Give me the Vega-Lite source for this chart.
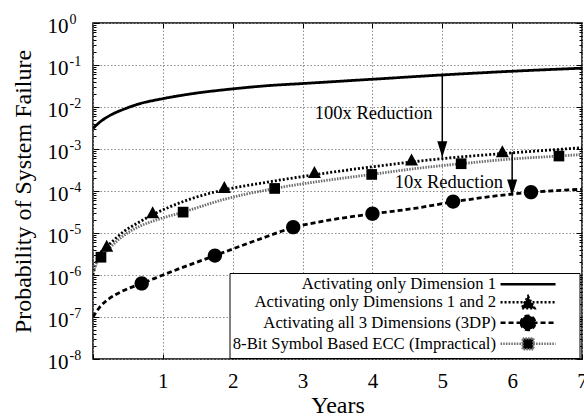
{
  "$schema": "https://vega.github.io/schema/vega-lite/v6.json",
  "width": 489,
  "height": 336,
  "autosize": {"type": "none"},
  "padding": {"left": 93, "top": 23, "right": 2, "bottom": 61},
  "config": {
    "font": "Liberation Serif",
    "view": {"stroke": "black", "strokeWidth": 1.5},
    "axis": {
      "labelFont": "Liberation Serif",
      "titleFont": "Liberation Serif",
      "labelColor": "black",
      "titleColor": "black",
      "titleFontWeight": "normal",
      "labelFlush": false,
      "labelOverlap": false,
      "domain": false,
      "tickColor": "black",
      "tickWidth": 1,
      "gridColor": "#8c8c8c",
      "gridDash": [1.5, 2],
      "gridWidth": 1,
      "gridOpacity": 1
    }
  },
  "datasets": {
    "curves": [
      {"series": "Activating only Dimension 1", "t": 0, "p": 0.0031},
      {"series": "Activating only Dimension 1", "t": 0.1, "p": 0.0044},
      {"series": "Activating only Dimension 1", "t": 0.25, "p": 0.0064},
      {"series": "Activating only Dimension 1", "t": 0.43, "p": 0.0087},
      {"series": "Activating only Dimension 1", "t": 0.67, "p": 0.012},
      {"series": "Activating only Dimension 1", "t": 1.0, "p": 0.0158},
      {"series": "Activating only Dimension 1", "t": 1.4, "p": 0.0205},
      {"series": "Activating only Dimension 1", "t": 2.0, "p": 0.027},
      {"series": "Activating only Dimension 1", "t": 2.5, "p": 0.0322},
      {"series": "Activating only Dimension 1", "t": 3.0, "p": 0.0362},
      {"series": "Activating only Dimension 1", "t": 4.0, "p": 0.0458},
      {"series": "Activating only Dimension 1", "t": 5.0, "p": 0.058},
      {"series": "Activating only Dimension 1", "t": 6.0, "p": 0.071},
      {"series": "Activating only Dimension 1", "t": 7.0, "p": 0.084},
      {"series": "Activating only Dimensions 1 and 2", "t": 0, "p": 0.000001},
      {"series": "Activating only Dimensions 1 and 2", "t": 0.05, "p": 0.0000022},
      {"series": "Activating only Dimensions 1 and 2", "t": 0.12, "p": 0.0000036},
      {"series": "Activating only Dimensions 1 and 2", "t": 0.2, "p": 0.0000048},
      {"series": "Activating only Dimensions 1 and 2", "t": 0.3, "p": 0.0000068},
      {"series": "Activating only Dimensions 1 and 2", "t": 0.43, "p": 0.0000105},
      {"series": "Activating only Dimensions 1 and 2", "t": 0.62, "p": 0.0000166},
      {"series": "Activating only Dimensions 1 and 2", "t": 0.85, "p": 0.000027},
      {"series": "Activating only Dimensions 1 and 2", "t": 1.1, "p": 0.000042},
      {"series": "Activating only Dimensions 1 and 2", "t": 1.39, "p": 0.000064},
      {"series": "Activating only Dimensions 1 and 2", "t": 1.88, "p": 0.000107},
      {"series": "Activating only Dimensions 1 and 2", "t": 2.39, "p": 0.000152},
      {"series": "Activating only Dimensions 1 and 2", "t": 3.18, "p": 0.000245},
      {"series": "Activating only Dimensions 1 and 2", "t": 3.96, "p": 0.00037},
      {"series": "Activating only Dimensions 1 and 2", "t": 5.0, "p": 0.00059},
      {"series": "Activating only Dimensions 1 and 2", "t": 5.87, "p": 0.00078},
      {"series": "Activating only Dimensions 1 and 2", "t": 7.0, "p": 0.00107},
      {"series": "Activating all 3 Dimensions (3DP)", "t": 0, "p": 0.0000001},
      {"series": "Activating all 3 Dimensions (3DP)", "t": 0.1, "p": 0.000000175},
      {"series": "Activating all 3 Dimensions (3DP)", "t": 0.24, "p": 0.00000028},
      {"series": "Activating all 3 Dimensions (3DP)", "t": 0.43, "p": 0.00000042},
      {"series": "Activating all 3 Dimensions (3DP)", "t": 0.7, "p": 0.00000063},
      {"series": "Activating all 3 Dimensions (3DP)", "t": 1.15, "p": 0.00000125},
      {"series": "Activating all 3 Dimensions (3DP)", "t": 1.745, "p": 0.0000029},
      {"series": "Activating all 3 Dimensions (3DP)", "t": 2.35, "p": 0.0000068},
      {"series": "Activating all 3 Dimensions (3DP)", "t": 2.87, "p": 0.0000135},
      {"series": "Activating all 3 Dimensions (3DP)", "t": 3.4, "p": 0.0000205},
      {"series": "Activating all 3 Dimensions (3DP)", "t": 4.0, "p": 0.0000285},
      {"series": "Activating all 3 Dimensions (3DP)", "t": 4.6, "p": 0.0000385},
      {"series": "Activating all 3 Dimensions (3DP)", "t": 5.155, "p": 0.000055},
      {"series": "Activating all 3 Dimensions (3DP)", "t": 5.7, "p": 0.000074},
      {"series": "Activating all 3 Dimensions (3DP)", "t": 6.27, "p": 0.000093},
      {"series": "Activating all 3 Dimensions (3DP)", "t": 7.0, "p": 0.00011},
      {"series": "8-Bit Symbol Based ECC (Impractical)", "t": 0, "p": 0.0000012},
      {"series": "8-Bit Symbol Based ECC (Impractical)", "t": 0.05, "p": 0.0000019},
      {"series": "8-Bit Symbol Based ECC (Impractical)", "t": 0.114, "p": 0.00000265},
      {"series": "8-Bit Symbol Based ECC (Impractical)", "t": 0.25, "p": 0.0000046},
      {"series": "8-Bit Symbol Based ECC (Impractical)", "t": 0.43, "p": 0.0000085},
      {"series": "8-Bit Symbol Based ECC (Impractical)", "t": 0.67, "p": 0.0000145},
      {"series": "8-Bit Symbol Based ECC (Impractical)", "t": 0.91, "p": 0.0000205},
      {"series": "8-Bit Symbol Based ECC (Impractical)", "t": 1.29, "p": 0.0000314},
      {"series": "8-Bit Symbol Based ECC (Impractical)", "t": 1.86, "p": 0.000062},
      {"series": "8-Bit Symbol Based ECC (Impractical)", "t": 2.6, "p": 0.000115},
      {"series": "8-Bit Symbol Based ECC (Impractical)", "t": 3.3, "p": 0.000175},
      {"series": "8-Bit Symbol Based ECC (Impractical)", "t": 3.99, "p": 0.000248},
      {"series": "8-Bit Symbol Based ECC (Impractical)", "t": 4.6, "p": 0.00034},
      {"series": "8-Bit Symbol Based ECC (Impractical)", "t": 5.27, "p": 0.000446},
      {"series": "8-Bit Symbol Based ECC (Impractical)", "t": 6.0, "p": 0.00058},
      {"series": "8-Bit Symbol Based ECC (Impractical)", "t": 6.67, "p": 0.00068},
      {"series": "8-Bit Symbol Based ECC (Impractical)", "t": 7.0, "p": 0.00074}
    ],
    "markers": [
      {"series": "Activating only Dimensions 1 and 2", "t": 0.196, "p": 0.000005},
      {"series": "Activating only Dimensions 1 and 2", "t": 0.854, "p": 0.0000314},
      {"series": "Activating only Dimensions 1 and 2", "t": 1.88, "p": 0.000124},
      {"series": "Activating only Dimensions 1 and 2", "t": 3.17, "p": 0.000282},
      {"series": "Activating only Dimensions 1 and 2", "t": 4.56, "p": 0.00056},
      {"series": "Activating only Dimensions 1 and 2", "t": 5.86, "p": 0.00089},
      {"series": "Activating all 3 Dimensions (3DP)", "t": 0.697, "p": 0.00000063},
      {"series": "Activating all 3 Dimensions (3DP)", "t": 1.745, "p": 0.0000029},
      {"series": "Activating all 3 Dimensions (3DP)", "t": 2.866, "p": 0.0000138},
      {"series": "Activating all 3 Dimensions (3DP)", "t": 4.0, "p": 0.0000288},
      {"series": "Activating all 3 Dimensions (3DP)", "t": 5.155, "p": 0.000056},
      {"series": "Activating all 3 Dimensions (3DP)", "t": 6.27, "p": 0.000094},
      {"series": "8-Bit Symbol Based ECC (Impractical)", "t": 0.114, "p": 0.00000265},
      {"series": "8-Bit Symbol Based ECC (Impractical)", "t": 1.29, "p": 0.0000314},
      {"series": "8-Bit Symbol Based ECC (Impractical)", "t": 2.6, "p": 0.000115},
      {"series": "8-Bit Symbol Based ECC (Impractical)", "t": 3.99, "p": 0.000248},
      {"series": "8-Bit Symbol Based ECC (Impractical)", "t": 5.27, "p": 0.000446},
      {"series": "8-Bit Symbol Based ECC (Impractical)", "t": 6.67, "p": 0.00068}
    ],
    "arrows": [
      {"t": 5, "p": 0.058, "p2": 0.00064},
      {"t": 6, "p": 0.00085, "p2": 0.0000785}
    ],
    "notes": [
      {"t": 4.86, "p": 0.0073, "label": "100x Reduction"},
      {"t": 5.87, "p": 0.000165, "label": "10x Reduction"}
    ]
  },
  "layer": [
    {
      "data": {"name": "curves"},
      "mark": {"type": "line", "interpolate": "monotone", "strokeWidth": 2.8, "clip": true},
      "encoding": {
        "x": {"field": "t", "type": "quantitative", "scale": {"domain": [0, 7], "nice": false, "zero": false},
          "axis": {"orient": "bottom", "values": [0, 1, 2, 3, 4, 5, 6, 7], "labelExpr": "datum.value == 0 ? '' : datum.label", "grid": true, "ticks": true, "tickSize": -5, "labelFontSize": 21, "labelPadding": 16, "labelBaseline": "top", "title": "Years", "titleFontSize": 24, "titlePadding": 2}},
        "y": {"field": "p", "type": "quantitative", "scale": {"type": "log", "domain": [1e-8, 1], "nice": false},
          "axis": {"orient": "left", "values": [1e-8, 1e-7, 1e-6, 1e-5, 1e-4, 1e-3, 1e-2, 1e-1, 1], "labelExpr": "'10'", "grid": true, "ticks": true, "tickSize": -6, "labelFontSize": 21, "labelPadding": 31, "labelAlign": "right", "labelBaseline": "middle", "labelOffset": 3.5, "title": "Probability of System Failure", "titleFontSize": 24, "titlePadding": 12}},
        "strokeDash": {"field": "series", "type": "nominal",
          "scale": {"domain": ["Activating only Dimension 1", "Activating only Dimensions 1 and 2", "Activating all 3 Dimensions (3DP)", "8-Bit Symbol Based ECC (Impractical)"], "range": [[1, 0], [2, 2], [5, 3], [1.5, 1.2]]},
          "legend": null},
        "color": {"field": "series", "type": "nominal",
          "scale": {"domain": ["Activating only Dimension 1", "Activating only Dimensions 1 and 2", "Activating all 3 Dimensions (3DP)", "8-Bit Symbol Based ECC (Impractical)"], "range": ["black", "black", "black", "#6e6e6e"]},
          "legend": {
            "orient": "none", "legendX": 136.5, "legendY": 250, "title": null,
            "padding": 3, "fillColor": "white", "strokeColor": "black",
            "labelFont": "Liberation Serif", "labelFontSize": 16.7, "labelColor": "black",
            "labelAlign": "right", "labelBaseline": "middle", "labelOffset": -40.4, "labelLimit": 600,
            "symbolOffset": 287.2, "symbolSize": 100, "symbolStrokeWidth": 2.5, "rowPadding": -3.5,
            "encode": {
              "symbols": {
                "update": {
                  "shape": {"signal": "datum.value === 'Activating only Dimension 1' ? 'M-5.5,0L5.5,0M8.6,0' : datum.value === 'Activating only Dimensions 1 and 2' ? 'M-5.5,0L5.5,0M0,-1.2L1.3,1.2L-1.3,1.2ZM8.6,0' : datum.value === 'Activating all 3 Dimensions (3DP)' ? 'M-5.5,0L5.5,0M-1.43,0A1.43,1.43,0,1,0,1.43,0A1.43,1.43,0,1,0,-1.43,0ZM8.6,0' : 'M-5.5,0L-1.07,0M1.07,0L5.5,0M-1.07,-1.07L1.07,-1.07L1.07,1.07L-1.07,1.07ZM8.6,0'"},
                  "strokeDash": {"signal": "datum.value === 'Activating only Dimension 1' ? [1, 0] : datum.value === 'Activating only Dimensions 1 and 2' ? [2, 2] : datum.value === 'Activating all 3 Dimensions (3DP)' ? [5, 3] : [1.5, 1.2]"},
                  "stroke": {"signal": "datum.value === '8-Bit Symbol Based ECC (Impractical)' ? '#6e6e6e' : 'black'"},
                  "fill": {"value": "black"},
                  "opacity": {"value": 1}
                }
              }
            }
          }
        }
      }
    },
    {
      "data": {"name": "markers"},
      "mark": {"type": "point", "filled": true, "opacity": 1, "size": 100, "strokeWidth": 0, "color": "black"},
      "encoding": {
        "x": {"field": "t", "type": "quantitative", "scale": {"domain": [0, 7], "nice": false, "zero": false},
          "axis": {"orient": "top", "values": [1, 2, 3, 4, 5, 6], "labels": false, "ticks": true, "tickSize": -5, "grid": false, "title": null}},
        "y": {"field": "p", "type": "quantitative", "scale": {"type": "log", "domain": [1e-8, 1], "nice": false},
          "axis": {"orient": "left", "values": [1e-8, 1e-7, 1e-6, 1e-5, 1e-4, 1e-3, 1e-2, 1e-1, 1], "labelExpr": "'' + round(log(datum.value) / LN10)", "grid": false, "ticks": false, "labelFontSize": 14, "labelPadding": 24, "labelAlign": "left", "labelBaseline": "middle", "labelOffset": -3.5, "title": null}},
        "shape": {"field": "series", "type": "nominal",
          "scale": {"domain": ["Activating only Dimensions 1 and 2", "Activating all 3 Dimensions (3DP)", "8-Bit Symbol Based ECC (Impractical)"], "range": ["M0,-1.2L1.3,1.2L-1.3,1.2Z", "M-1.43,0A1.43,1.43,0,1,0,1.43,0A1.43,1.43,0,1,0,-1.43,0Z", "M-1.07,-1.07L1.07,-1.07L1.07,1.07L-1.07,1.07Z"]},
          "legend": null}
      }
    },
    {
      "data": {"name": "arrows"},
      "mark": {"type": "rule", "strokeWidth": 1.5, "color": "black"},
      "encoding": {
        "x": {"field": "t", "type": "quantitative", "scale": {"domain": [0, 7], "nice": false, "zero": false}, "axis": null},
        "y": {"field": "p", "type": "quantitative", "scale": {"type": "log", "domain": [1e-8, 1], "nice": false},
          "axis": {"orient": "right", "values": [1e-8, 1e-7, 1e-6, 1e-5, 1e-4, 1e-3, 1e-2, 1e-1, 1], "labels": false, "ticks": true, "tickSize": -6, "grid": false, "title": null}},
        "y2": {"field": "p2"}
      }
    },
    {
      "data": {"name": "arrows"},
      "mark": {"type": "point", "filled": true, "opacity": 1, "color": "black", "shape": "M0,0L-1,-3.2L1,-3.2Z", "size": 100, "strokeWidth": 0},
      "encoding": {
        "x": {"field": "t", "type": "quantitative", "scale": {"domain": [0, 7], "nice": false, "zero": false}, "axis": null},
        "y": {"field": "p2", "type": "quantitative", "scale": {"type": "log", "domain": [1e-8, 1], "nice": false},
          "axis": {"orient": "left", "values": [2e-8, 3e-8, 4e-8, 5e-8, 6e-8, 7e-8, 8e-8, 9e-8, 2e-7, 3e-7, 4e-7, 5e-7, 6e-7, 7e-7, 8e-7, 9e-7, 2e-6, 3e-6, 4e-6, 5e-6, 6e-6, 7e-6, 8e-6, 9e-6, 2e-5, 3e-5, 4e-5, 5e-5, 6e-5, 7e-5, 8e-5, 9e-5, 2e-4, 3e-4, 4e-4, 5e-4, 6e-4, 7e-4, 8e-4, 9e-4, 2e-3, 3e-3, 4e-3, 5e-3, 6e-3, 7e-3, 8e-3, 9e-3, 2e-2, 3e-2, 4e-2, 5e-2, 6e-2, 7e-2, 8e-2, 9e-2, 0.2, 0.3, 0.4, 0.5, 0.6, 0.7, 0.8, 0.9], "labels": false, "ticks": true, "tickSize": -3, "grid": false, "title": null}}
      }
    },
    {
      "data": {"name": "notes"},
      "mark": {"type": "text", "align": "right", "baseline": "middle", "fontSize": 18.5, "font": "Liberation Serif", "color": "black"},
      "encoding": {
        "x": {"field": "t", "type": "quantitative", "scale": {"domain": [0, 7], "nice": false, "zero": false}, "axis": null},
        "y": {"field": "p", "type": "quantitative", "scale": {"type": "log", "domain": [1e-8, 1], "nice": false},
          "axis": {"orient": "right", "values": [2e-8, 3e-8, 4e-8, 5e-8, 6e-8, 7e-8, 8e-8, 9e-8, 2e-7, 3e-7, 4e-7, 5e-7, 6e-7, 7e-7, 8e-7, 9e-7, 2e-6, 3e-6, 4e-6, 5e-6, 6e-6, 7e-6, 8e-6, 9e-6, 2e-5, 3e-5, 4e-5, 5e-5, 6e-5, 7e-5, 8e-5, 9e-5, 2e-4, 3e-4, 4e-4, 5e-4, 6e-4, 7e-4, 8e-4, 9e-4, 2e-3, 3e-3, 4e-3, 5e-3, 6e-3, 7e-3, 8e-3, 9e-3, 2e-2, 3e-2, 4e-2, 5e-2, 6e-2, 7e-2, 8e-2, 9e-2, 0.2, 0.3, 0.4, 0.5, 0.6, 0.7, 0.8, 0.9], "labels": false, "ticks": true, "tickSize": -3, "grid": false, "title": null}},
        "text": {"field": "label", "type": "nominal"}
      }
    }
  ],
  "resolve": {
    "scale": {"shape": "independent", "color": "independent", "strokeDash": "independent"},
    "axis": {"x": "independent", "y": "independent"}
  }
}
